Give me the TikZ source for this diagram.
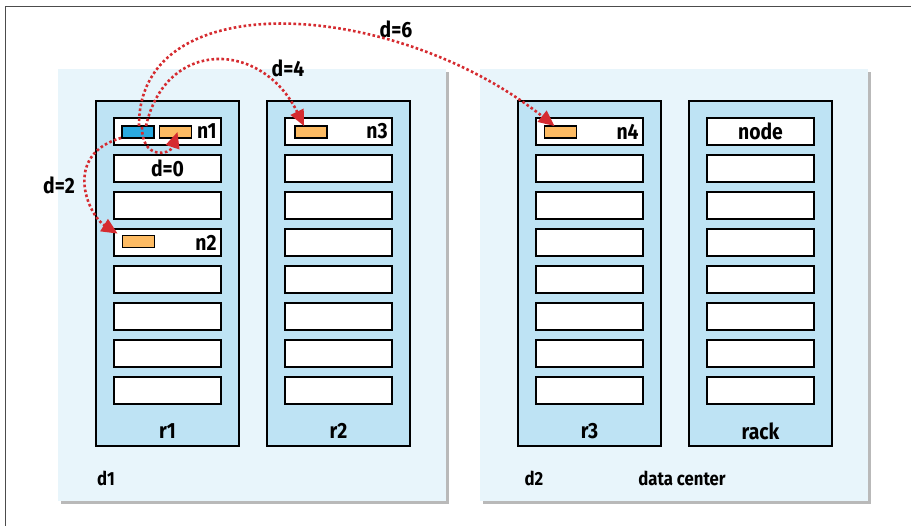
\documentclass[tikz,border=0pt]{standalone}
\usepackage{fontspec}
\setmainfont{Fira Sans}[FakeStretch=0.88]
\usetikzlibrary{calc}
\usetikzlibrary{arrows.meta}
\usetikzlibrary{shadows}

\definecolor{dcfill}{HTML}{E8F5FB}
\definecolor{rackfill}{HTML}{BEE3F4}
\definecolor{blkblue}{HTML}{2AA9E0}
\definecolor{blkorange}{HTML}{FDBB63}
\definecolor{hopred}{HTML}{D52B30}

\begin{document}
\begin{tikzpicture}[x=1pt,y=-1pt,
    font=\bfseries\fontsize{22}{22}\selectfont,
    dc/.style={fill=dcfill, minimum width=388pt, minimum height=432pt,
      drop shadow={shadow xshift=3pt, shadow yshift=-3pt, fill=black!50, opacity=0.55}},
    rack/.style={draw, line width=2.8pt, fill=rackfill, minimum width=143pt, minimum height=345pt},
    slot/.style={draw, line width=2.4pt, fill=white, minimum width=107pt, minimum height=27pt},
    blk/.style={draw, line width=1.8pt, minimum width=32pt, minimum height=12pt, inner sep=0pt},
    hop/.style={draw=hopred, line width=2.6pt, dash pattern=on 2.6pt off 2.4pt,
      -{Triangle[length=16pt,width=14pt]}}]
    \useasboundingbox (0,0) rectangle (911,526);
    \draw[line width=1pt, black!70] (5,526) -- (5,7) -- (911,7);

    % data centres
    \node[dc] (d1) at (252,285) {};
    \node[dc] (d2) at (674,285) {};

    % racks and their slots
    \foreach \r/\x in {1/167.5, 2/338.5, 3/589.5, 4/760.5} {
      \node[rack] (r\r) at (\x,273.5) {};
      \foreach \k in {1,...,8}
        \node[slot] (s\r-\k) at (\x,94.5+37*\k) {};
    }

    % blocks
    \node[blk, fill=blkblue]   (b1) at (138,132) {};
    \node[blk, fill=blkorange] (o1) at (175.5,132) {};
    \node[blk, fill=blkorange] (o2) at (138.5,241.5) {};
    \node[blk, fill=blkorange] (o3) at (311,132) {};
    \node[blk, fill=blkorange] (o4) at (560.5,132) {};

    % texts
    \node[anchor=east] (n1) at ($(s1-1.east)+(-2,0)$) {n1};
    \node[anchor=east] (n2) at ($(s1-4.east)+(-2,0)$) {n2};
    \node[anchor=east] (n3) at ($(s2-1.east)+(-2,0)$) {n3};
    \node[anchor=east] (n4) at ($(s3-1.east)+(-2,0)$) {n4};
    \node (nd) at (s4-1) {node};
    \node (l0) at (s1-2) {d=0};
    \node (l1) at (167.5,431) {r1};
    \node (l2) at (338.5,431) {r2};
    \node (l3) at (589.5,431) {r3};
    \node (l4) at (760.5,431) {rack};
    \begin{scope}[font=\bfseries\fontsize{19}{19}\selectfont]
      \node (ld1) at (106,478) {d1};
      \node (ld2) at (534,478) {d2};
      \node (ldc) at (682,478) {data center};
    \end{scope}
    \node (l6) at (396,29) {d=6};
    \node (l4h) at (288,68) {d=4};
    \node (l2h) at (59,185) {d=2};

    % distances
    \coordinate (p6) at ($(b1.center)+(1,-6)$);
    \coordinate (p4) at ($(b1.center)+(8,-6)$);
    \coordinate (p0) at ($(b1.center)+(4,-5)$);
    \coordinate (p2) at ($(b1.south west)+(0,-1)$);
    \draw[hop] (p6) .. controls (138,-18) and (396,0) .. ($(o4.north west)+(11,1)$);
    \draw[hop] (p4) .. controls (166,38) and (262,40) .. ($(o3.north west)+(10,1)$);
    \draw[hop] (p0) .. controls (142,160) and (170,155) .. ($(o1.center)+(2,0)$);
    \draw[hop] (p2) .. controls (62,155) and (88,215) .. ($(o2.north west)+(-4,-1)$);
  \end{tikzpicture}
\end{document}
